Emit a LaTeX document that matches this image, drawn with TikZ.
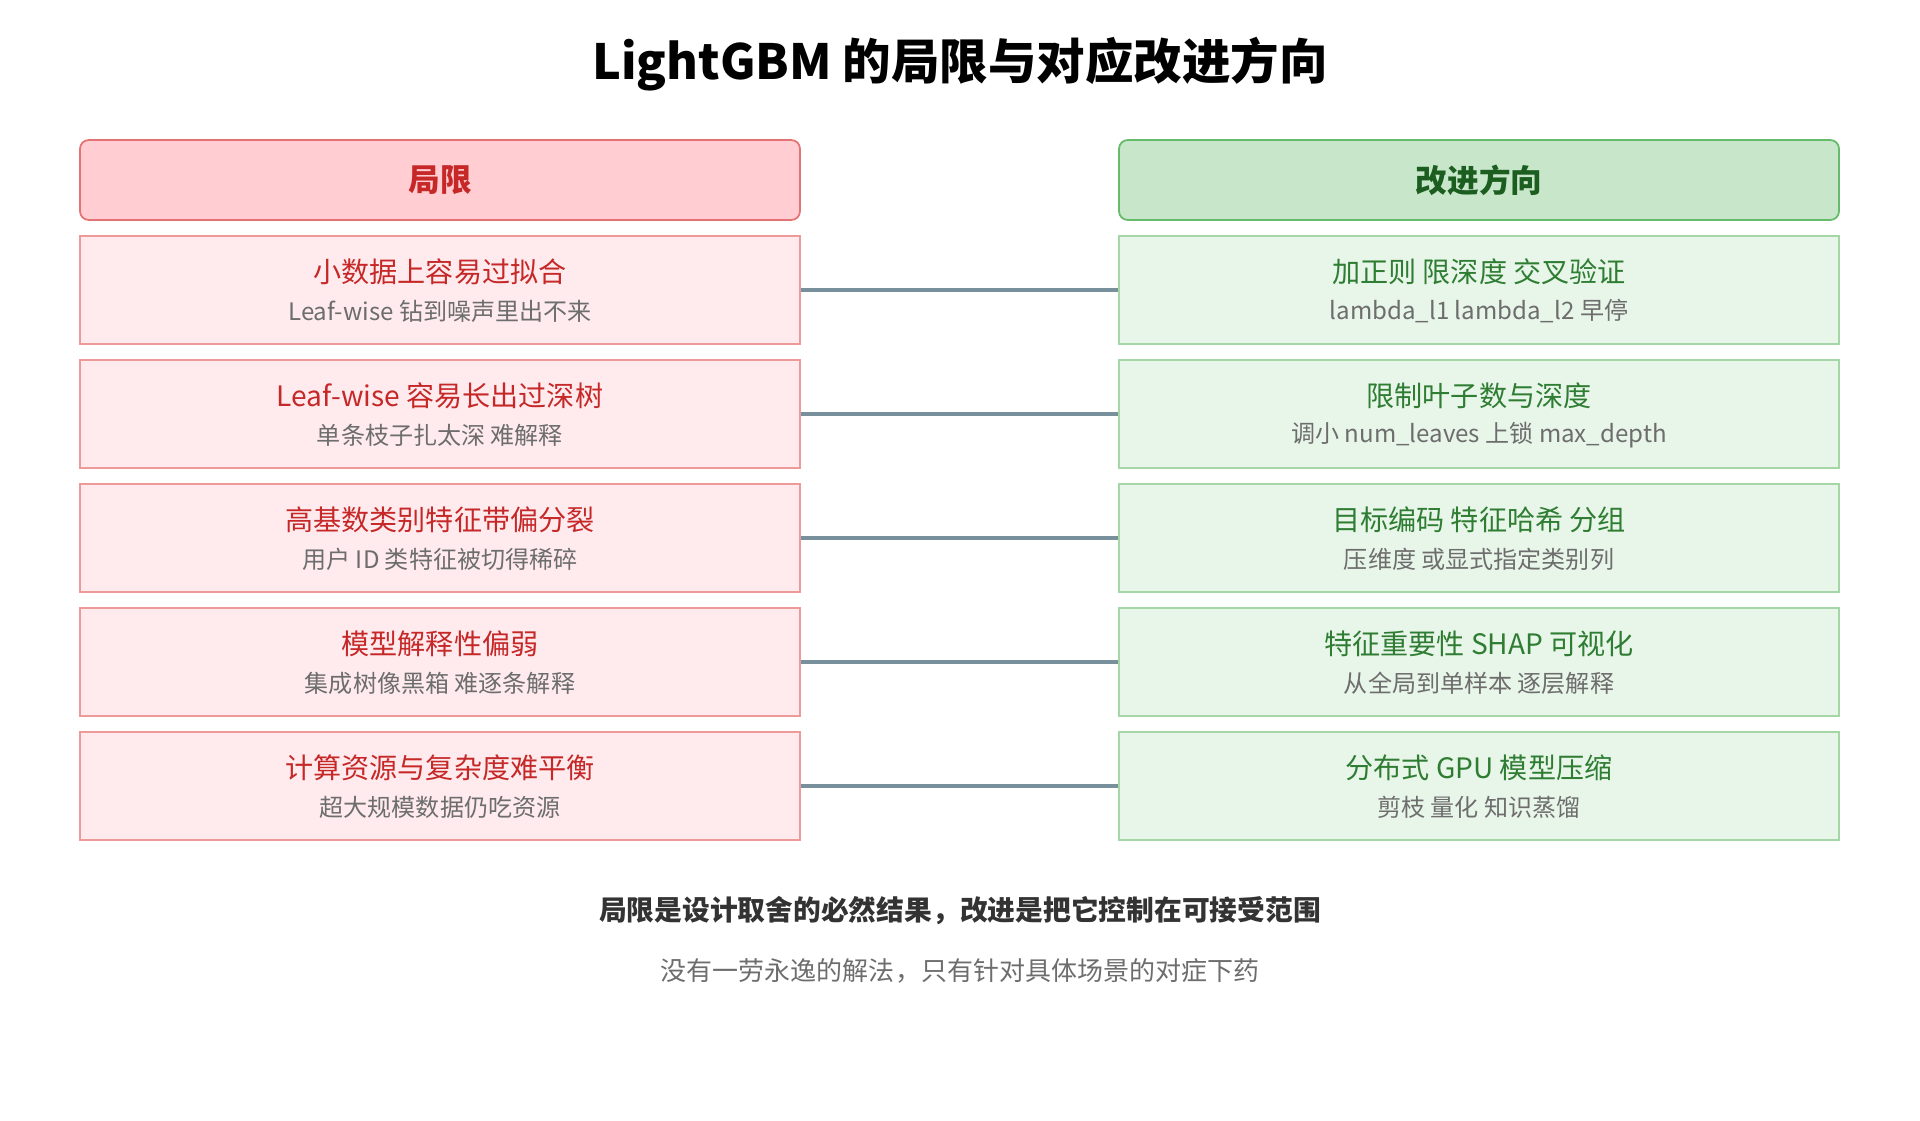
\documentclass[tikz,border=0pt]{standalone}
\usepackage{fontspec}
\setmainfont{Noto Sans CJK SC}
\usetikzlibrary{positioning}
\definecolor{limfill}{HTML}{FFEBEE}
\definecolor{limdraw}{HTML}{EF9A9A}
\definecolor{limhead}{HTML}{FFCDD2}
\definecolor{limheaddraw}{HTML}{E57373}
\definecolor{limtext}{HTML}{C62828}
\definecolor{fixfill}{HTML}{E8F5E9}
\definecolor{fixdraw}{HTML}{A5D6A7}
\definecolor{fixhead}{HTML}{C8E6C9}
\definecolor{fixheaddraw}{HTML}{66BB6A}
\definecolor{fixtext}{HTML}{1B5E20}
\definecolor{fixmain}{HTML}{2E7D32}
\definecolor{subgrey}{HTML}{6D6D6D}
\definecolor{linkgrey}{HTML}{78909C}
\tikzset{
    box/.style = {rectangle, minimum width=720*0.02cm, minimum height=108*0.02cm, inner sep=0pt, line width=1pt},
    head/.style = {box, rounded corners=5pt, minimum height=80*0.02cm, font=\fontsize{18}{21}\selectfont\bfseries},
    lim_box/.style = {box, fill=limfill, draw=limdraw},
    fix_box/.style = {box, fill=fixfill, draw=fixdraw},
    main/.style = {font=\fontsize{16}{19}\selectfont},
    sub/.style = {font=\fontsize{13.7}{16}\selectfont, subgrey},
    link/.style = {linkgrey, line width=1.8pt}
}
\begin{document}
\begin{tikzpicture}[x=0.02cm, y=-0.02cm]
    \useasboundingbox (0,0) rectangle (1920,1120);

    \node (title) at (960,64) {\fontsize{27.6}{32}\selectfont\bfseries LightGBM 的局限与对应改进方向};

    \node [head, fill=limhead, draw=limheaddraw, text=limtext] (limhead) at (440,180) {局限};
    \node [head, fill=fixhead, draw=fixheaddraw, text=fixtext] (fixhead) at (1479,180) {改进方向};

    \foreach \i/\lmain/\lsub/\fmain/\fsub in {
        1/小数据上容易过拟合/Leaf-wise 钻到噪声里出不来/加正则 限深度 交叉验证/lambda\_l1 lambda\_l2 早停,
        2/Leaf-wise 容易长出过深树/单条枝子扎太深 难解释/限制叶子数与深度/调小 num\_leaves 上锁 max\_depth,
        3/高基数类别特征带偏分裂/用户 ID 类特征被切得稀碎/目标编码 特征哈希 分组/压维度 或显式指定类别列,
        4/模型解释性偏弱/集成树像黑箱 难逐条解释/特征重要性 SHAP 可视化/从全局到单样本 逐层解释,
        5/计算资源与复杂度难平衡/超大规模数据仍吃资源/分布式 GPU 模型压缩/剪枝 量化 知识蒸馏}
    {
        \pgfmathsetmacro{\y}{290+124*(\i-1)}
        \node [lim_box] (lim\i) at (440,\y) {};
        \node [fix_box] (fix\i) at (1479,\y) {};
        \node [main, limtext] at ([yshift=10.5pt]lim\i.center) {\lmain};
        \node [sub] at ([yshift=-12pt]lim\i.center) {\lsub};
        \node [main, fixmain] at ([yshift=10.5pt]fix\i.center) {\fmain};
        \node [sub] at ([yshift=-12pt]fix\i.center) {\fsub};
        \draw [link] (lim\i.east) -- (fix\i.west);
    }

    \node [font=\fontsize{15.8}{19}\selectfont\bfseries, black!80] (moral) at (960,911) {局限是设计取舍的必然结果，改进是把它控制在可接受范围};
    \node [font=\fontsize{14.8}{18}\selectfont, subgrey] (hint) at (960,971) {没有一劳永逸的解法，只有针对具体场景的对症下药};
\end{tikzpicture}
\end{document}
